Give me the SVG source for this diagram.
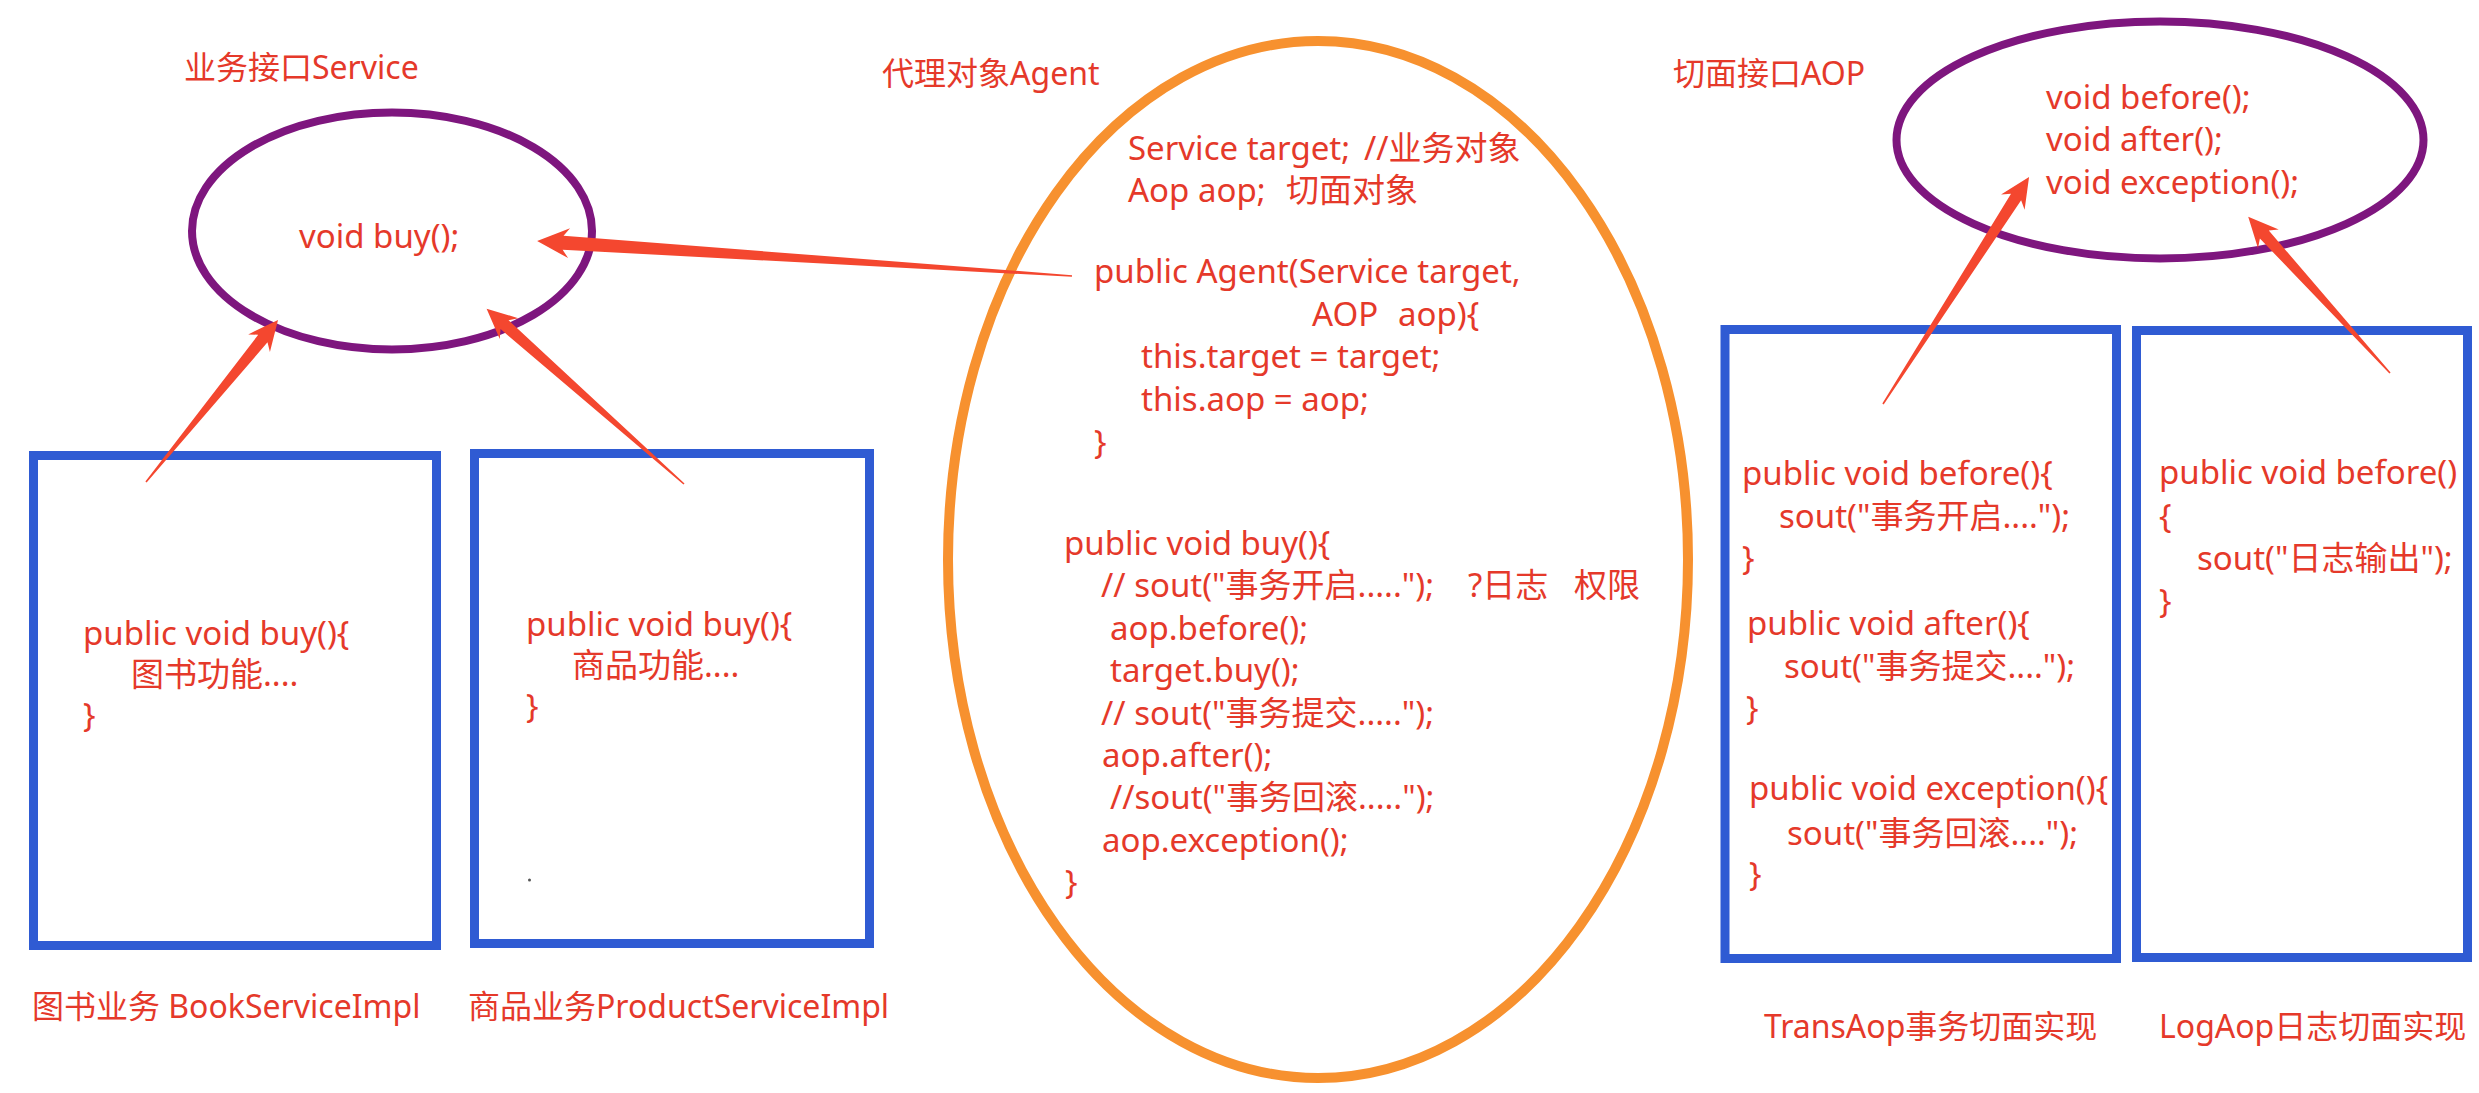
<svg xmlns="http://www.w3.org/2000/svg" width="2479" height="1093" viewBox="0 0 2479 1093">
<style>
text{font-family:"Noto Sans","Noto Sans CJK SC",sans-serif;fill:#E5392A;font-size:33px}
.lbl{font-size:32px}
.iface{fill:none;stroke:#7E167E;stroke-width:8}
.agent{fill:none;stroke:#F7912F;stroke-width:10}
.box{fill:none;stroke:#2F5BD3;stroke-width:9}
.arr{fill:#F4472F}
</style>
<rect width="2479" height="1093" fill="#FFFFFF"/>

<g id="service">
<text class="lbl" x="184" y="79">业务接口Service</text>
<ellipse class="iface" cx="392" cy="231" rx="200" ry="118.5"/>
<text x="299" y="248">void buy();</text>
</g>

<g id="book-service">
<rect class="box" x="33.5" y="455.5" width="403" height="490"/>
<text x="83" y="645">public void buy(){</text>
<text x="131" y="686">图书功能....</text>
<text x="83" y="727">}</text>
<text class="lbl" x="32" y="1018">图书业务 BookServiceImpl</text>
</g>

<g id="product-service">
<rect class="box" x="474.5" y="453.5" width="395" height="490"/>
<text x="526" y="636">public void buy(){</text>
<text x="572" y="677">商品功能....</text>
<text x="526" y="718">}</text>
<circle cx="529.5" cy="880" r="1.5" fill="#555555"/>
<text class="lbl" x="468" y="1018">商品业务ProductServiceImpl</text>
</g>

<g id="agent">
<text class="lbl" x="882" y="85">代理对象Agent</text>
<ellipse class="agent" cx="1318" cy="559.5" rx="370" ry="518.5"/>
<text x="1128" y="160">Service target;<tspan x="1364">//业务对象</tspan></text>
<text x="1128" y="202">Aop aop;<tspan x="1286">切面对象</tspan></text>
<text x="1094" y="283">public Agent(Service target,</text>
<text x="1312" y="326">AOP<tspan x="1398">aop){</tspan></text>
<text x="1141" y="368">this.target = target;</text>
<text x="1141" y="411">this.aop = aop;</text>
<text x="1094" y="454">}</text>
<text x="1064" y="555">public void buy(){</text>
<text x="1101" y="597.4">// sout("事务开启.....");<tspan x="1468">?日志</tspan><tspan x="1574">权限</tspan></text>
<text x="1110" y="639.8">aop.before();</text>
<text x="1110" y="682.2">target.buy();</text>
<text x="1101" y="724.6">// sout("事务提交.....");</text>
<text x="1102" y="767">aop.after();</text>
<text x="1110" y="809.4">//sout("事务回滚.....");</text>
<text x="1102" y="851.8">aop.exception();</text>
<text x="1065" y="894.2">}</text>
</g>

<g id="aop">
<text class="lbl" x="1673" y="85">切面接口AOP</text>
<ellipse class="iface" cx="2160" cy="140" rx="263.5" ry="118.5"/>
<text x="2046" y="109">void before();</text>
<text x="2046" y="151">void after();</text>
<text x="2046" y="194">void exception();</text>
</g>

<g id="trans-aop">
<rect class="box" x="1725" y="329.5" width="391.5" height="629"/>
<text x="1742" y="485">public void before(){</text>
<text x="1779" y="528">sout("事务开启....");</text>
<text x="1742" y="570">}</text>
<text x="1747" y="635">public void after(){</text>
<text x="1784" y="678">sout("事务提交....");</text>
<text x="1746" y="720">}</text>
<text x="1749" y="800">public void exception(){</text>
<text x="1787" y="845">sout("事务回滚....");</text>
<text x="1749" y="886">}</text>
<text class="lbl" x="1764" y="1038">TransAop事务切面实现</text>
</g>

<g id="log-aop">
<rect class="box" x="2136.5" y="330.5" width="331" height="627"/>
<text x="2159" y="484">public void before()</text>
<text x="2159" y="528">{</text>
<text x="2197" y="570">sout("日志输出");</text>
<text x="2159" y="613">}</text>
<text class="lbl" x="2159" y="1038">LogAop日志切面实现</text>
</g>

<g id="connectors">
<path class="arr" transform="translate(146,482) rotate(-50.83)" d="M0,-0.8 L185,-6 L179,-14 L209,0 L179,14 L185,6 L0,0.8 Z"/>
<path class="arr" transform="translate(684,484) rotate(-138.39)" d="M0,-0.8 L240,-6 L234,-14 L264,0 L234,14 L240,6 L0,0.8 Z"/>
<path class="arr" transform="translate(1072,276) rotate(-176.26)" d="M0,-0.8 L510,-7 L504,-15 L536,0 L504,15 L510,7 L0,0.8 Z"/>
<path class="arr" transform="translate(1883,404) rotate(-57.25)" d="M0,-0.8 L246,-6 L240,-14 L270,0 L240,14 L246,6 L0,0.8 Z"/>
<path class="arr" transform="translate(2390,373) rotate(-132.22)" d="M0,-0.8 L187,-6 L181,-14 L211,0 L181,14 L187,6 L0,0.8 Z"/>
</g>
</svg>
